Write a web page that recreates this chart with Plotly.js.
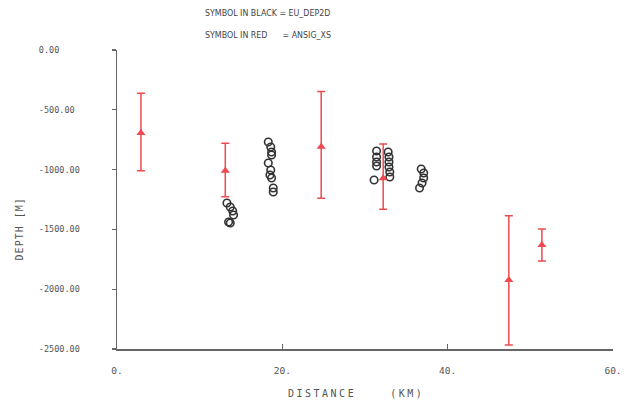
<!DOCTYPE html>
<html>
<head>
<meta charset="utf-8">
<script src="https://cdn.plot.ly/plotly-3.0.1.min.js"></script>
<style>html,body{margin:0;padding:0;background:#fff;}#chart{width:634px;height:409px;}</style>
</head>
<body>
<div id="chart"></div>
<script>
// Black symbols: EU_DEP2D (distance km, depth m)
const blackX = [13.3, 13.7, 14.0, 14.1, 13.5, 13.7,
                18.3, 18.6, 18.7, 18.7, 18.3, 18.6, 18.5, 18.7, 18.9, 18.9,
                31.4, 31.4, 31.4, 31.4, 31.1, 32.8, 32.9, 32.9, 32.9, 33.0, 33.0,
                36.8, 37.1, 37.1, 36.9, 36.6];
const blackY = [-1279, -1313, -1346, -1380, -1438, -1446,
                -769, -811, -853, -878, -945, -1003, -1045, -1070, -1154, -1187,
                -844, -895, -936, -970, -1087, -853, -895, -936, -978, -1020, -1062,
                -995, -1028, -1070, -1112, -1154];
// Red symbols: ANSIG_XS with error range
const redX = [2.9, 13.1, 24.7, 32.2, 47.4, 51.4];
const redY = [-694, -1009, -808, -1073, -1923, -1630];
const redTop = [-362, -780, -348, -786, -1385, -1497];
const redBottom = [-1009, -1227, -1240, -1332, -2467, -1764];
// Ticks
const xTicks = [0, 20, 40, 60];
const xTickText = ['0.', '20.', '40.', '60.'];
const yTicks = [0, -500, -1000, -1500, -2000, -2500];
const yTickText = ['0.00', '-500.00', '-1000.00', '-1500.00', '-2000.00', '-2500.00'];

const pad = (s, n) => s + '\u00a0'.repeat(Math.max(0, n - s.length));
const yTickPadded = yTickText.map(s => pad(s, 8));

const mono = 'DejaVu Sans Mono, Liberation Mono, monospace';
const narrow = "'Liberation Sans Narrow', 'DejaVu Sans Condensed', 'DejaVu Sans Mono', monospace";
const red = '#ee4a4f';

const traces = [
  {
    type: 'scatter', mode: 'markers', x: blackX, y: blackY,
    marker: {symbol: 'circle-open', size: 7.5, color: '#333', line: {width: 1.6, color: '#333'}},
    hoverinfo: 'skip'
  },
  {
    type: 'scatter', mode: 'markers', x: redX, y: redY,
    marker: {symbol: 'triangle-up', size: 8, color: red},
    error_y: {
      type: 'data', symmetric: false,
      array: redTop.map((t, i) => t - redY[i]),
      arrayminus: redY.map((v, i) => v - redBottom[i]),
      color: red, thickness: 1.5, width: 4
    },
    hoverinfo: 'skip'
  }
];

const layout = {
  width: 634, height: 409,
  margin: {l: 117, r: 21, t: 50, b: 60},
  paper_bgcolor: '#fff', plot_bgcolor: '#fff',
  showlegend: false,
  font: {family: mono, size: 8, color: '#555'},
  xaxis: {
    range: [0, 60], tickvals: xTicks, ticktext: xTickText,
    ticks: 'inside', ticklen: 5, tickwidth: 1.2, tickcolor: '#666',
    showline: true, linecolor: '#666', linewidth: 1.5,
    showgrid: false, zeroline: false, mirror: false,
    ticklabelstandoff: 12,
    tickfont: {family: mono, size: 9.5, color: '#555'}
  },
  yaxis: {
    range: [-2500, 0], tickvals: yTicks, ticktext: yTickPadded,
    ticks: 'outside', ticklen: 4, tickwidth: 1.2, tickcolor: '#666',
    showline: true, linecolor: '#666', linewidth: 1.5,
    showgrid: false, zeroline: false,
    ticklabelstandoff: 30,
    tickfont: {family: mono, size: 8.5, color: '#555'}
  },
  annotations: [
    {text: 'SYMBOL IN BLACK = EU_DEP2D', xref: 'paper', yref: 'paper', x: 0.1734, y: 1, yshift: 37,
     xanchor: 'left', yanchor: 'middle', showarrow: false, font: {family: narrow, size: 8.8, color: '#444'}},
    {text: 'SYMBOL IN RED\u00a0\u00a0\u00a0\u00a0\u00a0\u00a0= ANSIG_XS', xref: 'paper', yref: 'paper', x: 0.1734, y: 1, yshift: 15,
     xanchor: 'left', yanchor: 'middle', showarrow: false, font: {family: narrow, size: 8.8, color: '#444'}},
    {text: '<span style="letter-spacing:1px">DEPTH [M]</span>', xref: 'paper', yref: 'paper', x: 0, xshift: -98, y: 0.4, textangle: -90,
     xanchor: 'center', yanchor: 'middle', showarrow: false, font: {family: mono, size: 10, color: '#555'}},
    {text: '<span style="letter-spacing:2.5px">DISTANCE\u00a0\u00a0\u00a0\u00a0(KM)</span>', xref: 'paper', yref: 'paper', x: 0.482, y: 0, yshift: -44,
     xanchor: 'center', yanchor: 'middle', showarrow: false, font: {family: mono, size: 10, color: '#555'}}
  ]
};

Plotly.newPlot('chart', traces, layout, {displayModeBar: false, staticPlot: true});
</script>
</body>
</html>
